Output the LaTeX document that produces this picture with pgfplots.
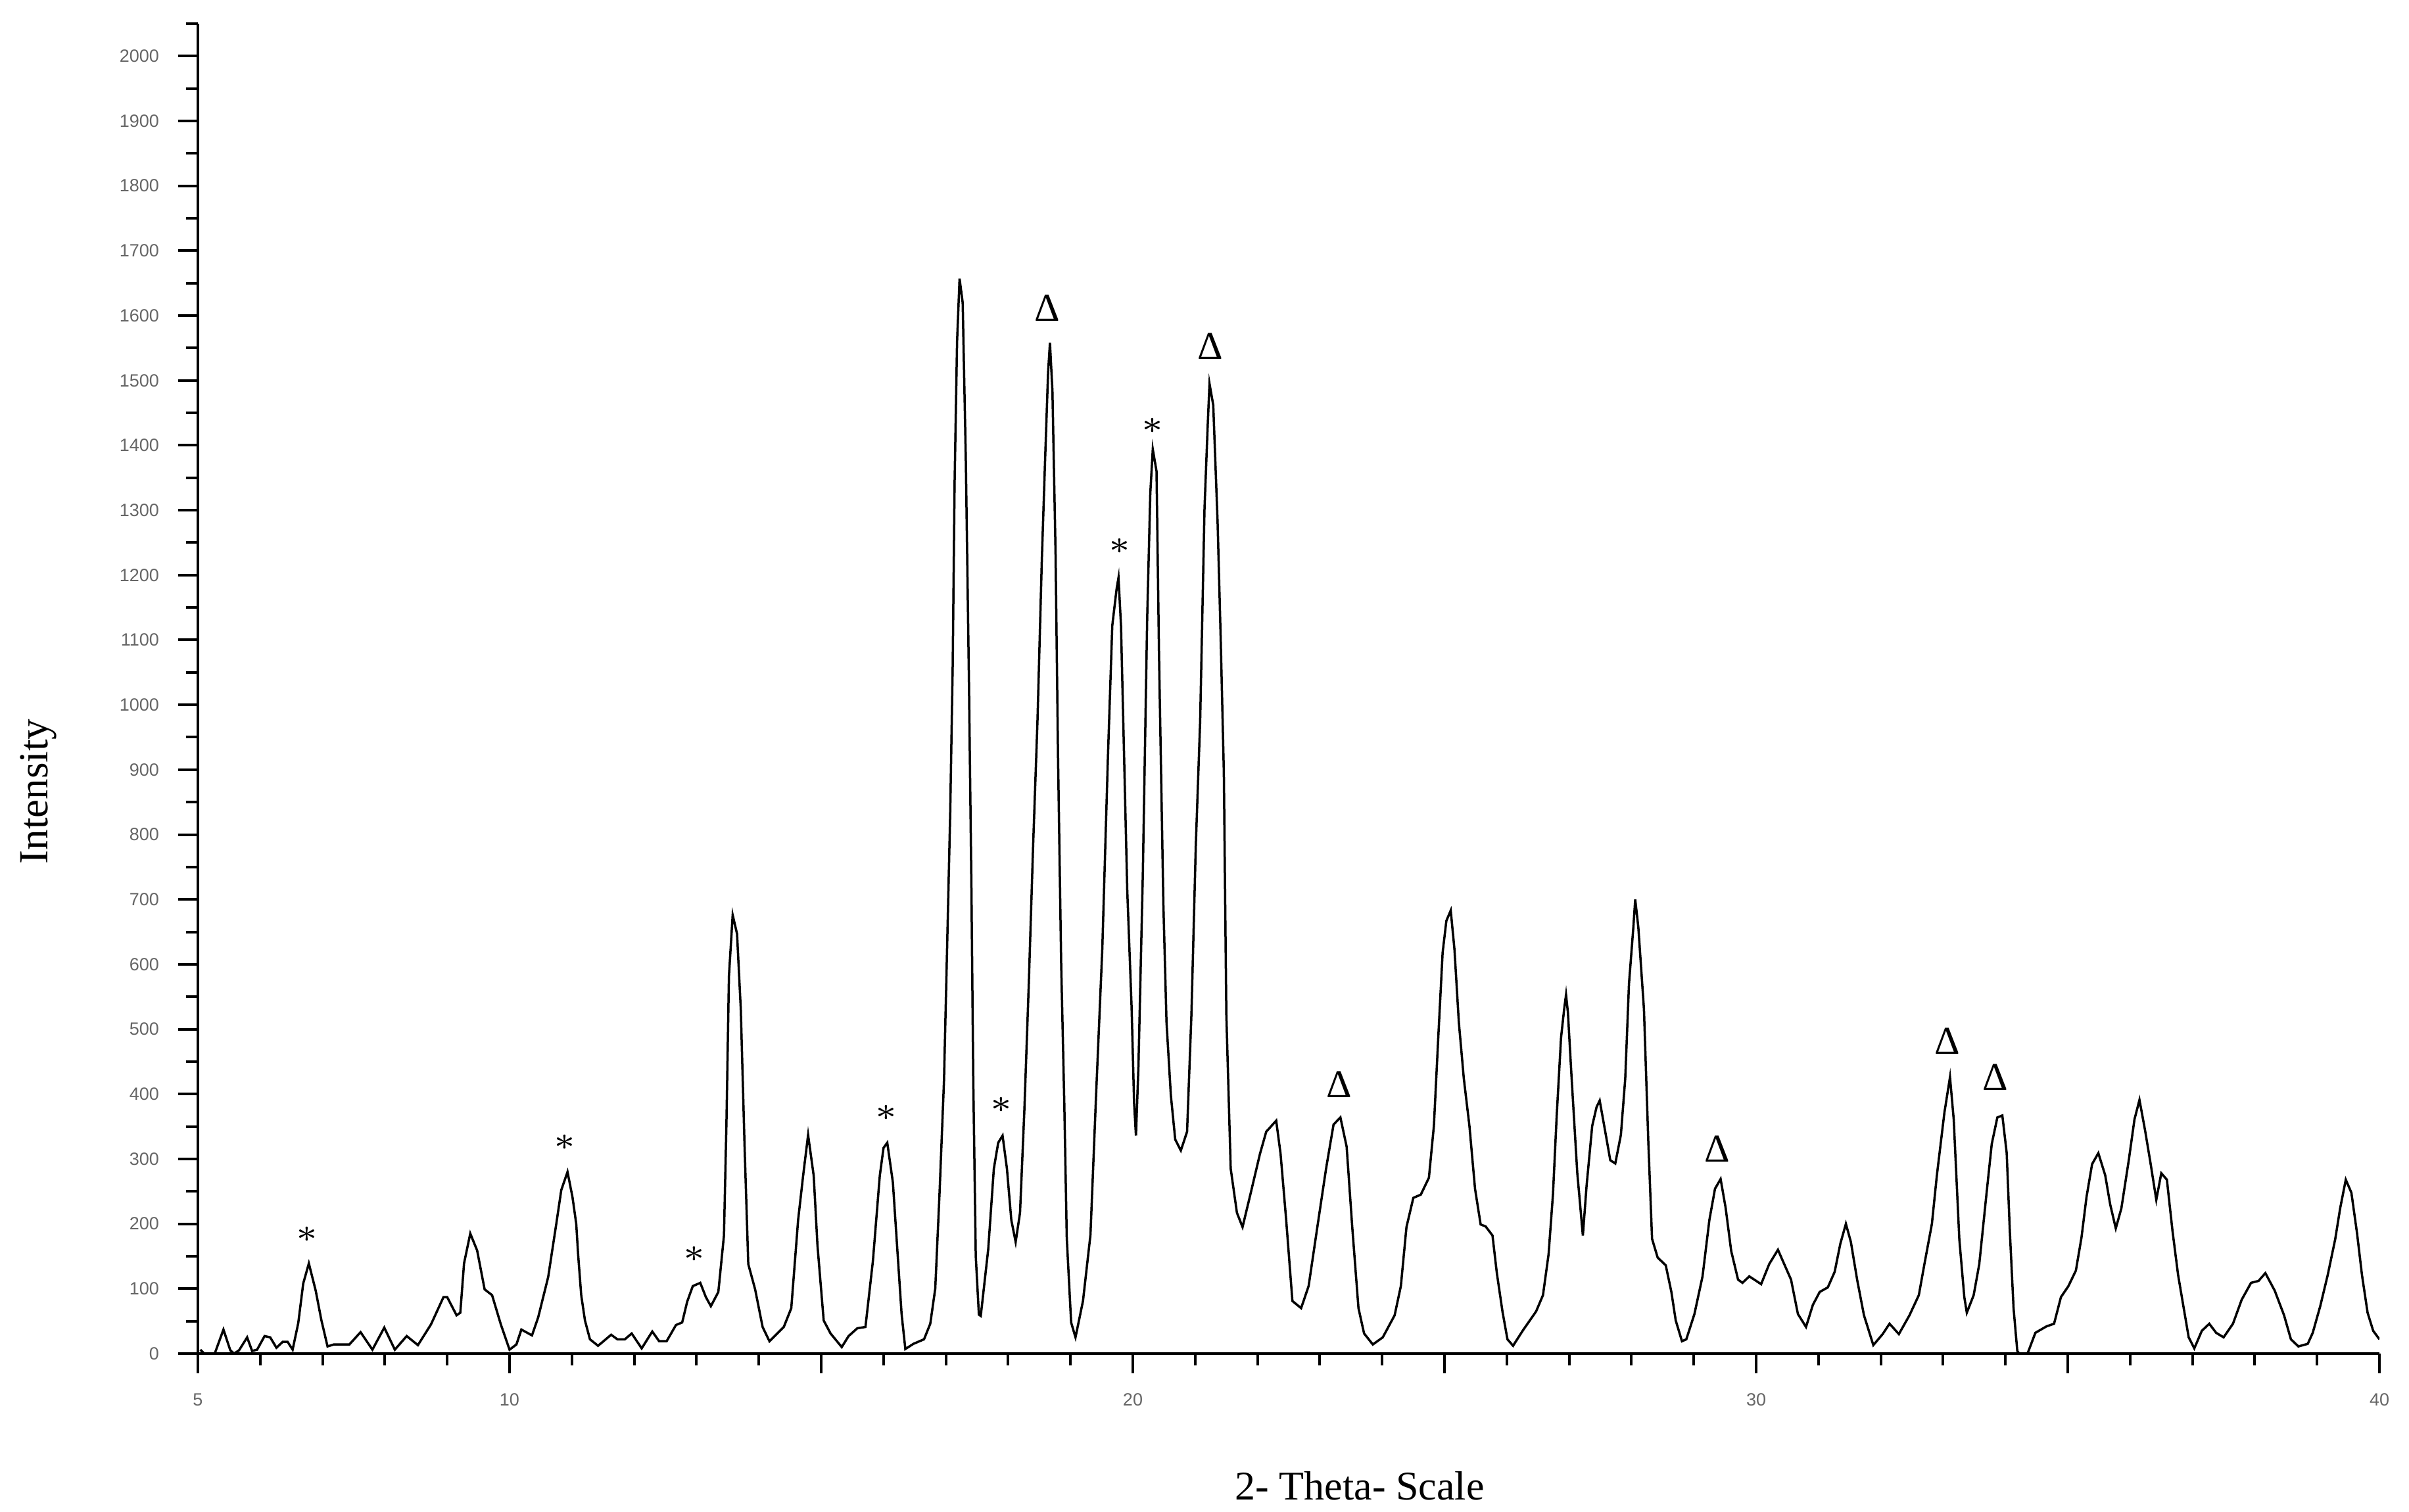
\documentclass[border=0pt]{standalone}
\usepackage{fontspec}
\setmainfont{Liberation Serif}
\newfontfamily\tickfont{Liberation Sans}
\usepackage{pgfplots}
\pgfplotsset{compat=1.18}
\pgfplotstableread{
x y
5.04 6
5.10 0
5.27 0
5.41 37
5.52 5
5.58 0
5.66 5
5.79 25
5.87 4
5.95 6
6.07 27
6.16 25
6.26 9
6.36 18
6.44 18
6.52 6
6.61 47
6.69 108
6.78 139
6.89 97
6.98 52
7.08 11
7.18 14
7.43 14
7.61 33
7.80 6
7.99 40
8.16 6
8.35 27
8.53 13
8.74 45
8.94 87
9.00 87
9.15 59
9.21 63
9.27 139
9.37 185
9.48 159
9.60 99
9.72 90
9.86 45
10.00 6
10.11 14
10.19 37
10.36 28
10.46 56
10.62 118
10.75 200
10.83 252
10.93 280
11.01 241
11.07 200
11.10 153
11.15 90
11.21 51
11.29 22
11.42 12
11.63 29
11.73 22
11.85 22
11.96 31
12.12 8
12.29 34
12.40 19
12.52 19
12.67 44
12.77 48
12.85 80
12.94 104
13.06 109
13.15 87
13.23 73
13.35 95
13.44 182
13.48 356
13.52 582
13.58 676
13.65 647
13.71 531
13.77 322
13.83 138
13.94 99
14.06 41
14.17 19
14.40 41
14.52 70
14.63 206
14.71 274
14.79 337
14.88 274
14.94 167
15.04 51
15.15 31
15.33 10
15.44 27
15.58 39
15.71 41
15.83 143
15.94 274
16.00 317
16.06 325
16.15 264
16.23 148
16.29 61
16.35 7
16.48 15
16.65 22
16.75 46
16.83 100
16.90 250
16.97 420
17.02 625
17.07 834
17.11 1061
17.14 1340
17.18 1560
17.22 1657
17.27 1620
17.32 1380
17.37 1040
17.41 720
17.44 420
17.48 150
17.53 60
17.56 58
17.68 161
17.77 285
17.84 325
17.91 336
17.98 285
18.05 206
18.12 172
18.19 217
18.26 376
18.33 568
18.40 783
18.47 975
18.54 1224
18.59 1371
18.64 1512
18.67 1558
18.71 1484
18.76 1235
18.80 918
18.85 602
18.90 387
18.94 178
19.01 48
19.08 25
19.20 81
19.32 183
19.41 398
19.51 624
19.60 919
19.67 1122
19.74 1179
19.77 1196
19.81 1122
19.86 919
19.91 715
19.98 534
20.02 387
20.05 336
20.09 443
20.16 738
20.23 1133
20.28 1326
20.32 1394
20.38 1360
20.42 1077
20.49 692
20.54 511
20.61 398
20.68 330
20.77 313
20.87 342
20.94 523
21.01 783
21.08 975
21.15 1303
21.20 1428
21.23 1495
21.29 1462
21.36 1281
21.41 1100
21.46 896
21.50 523
21.57 285
21.67 217
21.76 195
21.90 251
22.04 308
22.14 342
22.30 359
22.37 308
22.46 206
22.56 81
22.70 70
22.82 104
22.96 195
23.10 285
23.22 353
23.33 364
23.43 319
23.52 195
23.62 70
23.71 31
23.85 14
24.01 25
24.20 59
24.30 104
24.39 195
24.50 240
24.62 245
24.75 271
24.83 351
24.90 487
24.97 618
25.03 667
25.10 683
25.16 623
25.23 511
25.31 424
25.40 351
25.49 254
25.58 199
25.66 196
25.77 182
25.84 124
25.93 65
26.01 22
26.10 12
26.26 36
26.47 65
26.58 90
26.67 153
26.74 245
26.80 366
26.87 487
26.92 531
26.95 553
26.98 526
27.04 424
27.13 279
27.22 182
27.28 259
27.37 351
27.44 380
27.49 390
27.57 347
27.66 298
27.74 293
27.83 337
27.90 424
27.96 570
28.03 657
28.06 700
28.11 657
28.20 531
28.27 327
28.33 177
28.42 148
28.55 136
28.64 95
28.71 51
28.81 19
28.88 22
29.01 61
29.14 119
29.25 206
29.34 254
29.43 269
29.51 225
29.60 158
29.71 114
29.78 109
29.89 119
29.97 114
30.08 107
30.21 138
30.35 160
30.45 138
30.56 114
30.67 61
30.80 41
30.91 75
31.02 95
31.15 102
31.26 126
31.35 169
31.44 200
31.52 172
31.62 114
31.73 59
31.88 13
32.03 30
32.14 46
32.29 30
32.46 59
32.61 90
32.70 138
32.82 200
32.90 275
33.02 371
33.11 426
33.17 361
33.26 176
33.34 87
33.38 63
33.49 90
33.58 138
33.69 241
33.78 323
33.87 364
33.95 367
34.02 309
34.07 189
34.13 70
34.19 4
34.22 0
34.35 0
34.37 4
34.48 32
34.66 42
34.78 46
34.89 87
35.01 104
35.13 128
35.22 179
35.30 241
35.39 292
35.49 309
35.60 275
35.68 230
35.77 193
35.86 224
35.98 299
36.07 361
36.15 391
36.24 344
36.33 292
36.42 237
36.50 278
36.59 268
36.68 189
36.77 121
36.86 70
36.94 25
37.03 8
37.15 35
37.27 46
37.38 32
37.50 25
37.65 46
37.79 83
37.94 109
38.06 112
38.17 124
38.32 97
38.47 59
38.58 22
38.70 11
38.85 15
38.93 32
39.05 73
39.17 121
39.29 176
39.37 224
39.46 268
39.55 248
39.64 186
39.72 121
39.81 63
39.90 35
40.00 22
}\xrd
\begin{document}
\begin{tikzpicture}
\useasboundingbox (-30.1pt,-24.1pt) rectangle (336.3pt,205.9pt);
\begin{axis}[
  at={(0,0)}, anchor=south west,
  scale only axis, width=331.8pt, height=202.3pt,
  xmin=5, xmax=40, ymin=0, ymax=2050,
  axis x line*=bottom, axis y line*=left,
  axis line style={line width=0.4pt, black},
  tick align=outside,
  major tick length=3pt, minor tick length=1.8pt,
  every tick/.style={black, line width=0.4pt},
  xtick={5,10,...,40}, xticklabels={5,10,,20,,30,,40},
  minor x tick num=4,
  ytick={0,100,...,2000}, minor ytick={50,150,...,2050},
  tick label style={font=\tickfont\fontsize{2.7}{3}\selectfont, text=black!60},
  /pgf/number format/assume math mode=true,
  /pgf/number format/set thousands separator={},
  yticklabel style={inner sep=0pt, xshift=-2.7pt},
  xticklabel style={inner sep=0pt, yshift=-2.9pt},
  xlabel={2- Theta- Scale},
  xlabel style={at={(axis description cs:0.5326,0)}, anchor=north, inner sep=0pt, yshift=-17.7pt, font=\fontsize{6.2}{7}\selectfont},
  ylabel={Intensity},
  ylabel style={at={(axis description cs:-0.0732,0.4227)}, anchor=center, inner sep=0pt, font=\fontsize{6.3}{7}\selectfont},
]
\addplot[black, line width=0.35pt] table[x=x, y=y] {\xrd};
\begin{scope}[every node/.style={font=\fontsize{5}{6}\selectfont, inner sep=0pt}]
\node at (axis cs:6.75,184) {$\ast$};
\node at (axis cs:10.89,325) {$\ast$};
\node at (axis cs:12.96,153) {$\ast$};
\node at (axis cs:16.04,371) {$\ast$};
\node at (axis cs:17.89,383) {$\ast$};
\node at (axis cs:19.79,1245) {$\ast$};
\node at (axis cs:20.31,1430) {$\ast$};
\end{scope}
\begin{scope}[every node/.style={font=\fontsize{6}{7}\selectfont, inner sep=0pt}]
\node at (axis cs:18.63,1612) {Δ};
\node at (axis cs:21.24,1553) {Δ};
\node at (axis cs:23.31,415) {Δ};
\node at (axis cs:29.38,315) {Δ};
\node at (axis cs:33.07,482) {Δ};
\node at (axis cs:33.84,426) {Δ};
\end{scope}
\end{axis}
\end{tikzpicture}
\end{document}
